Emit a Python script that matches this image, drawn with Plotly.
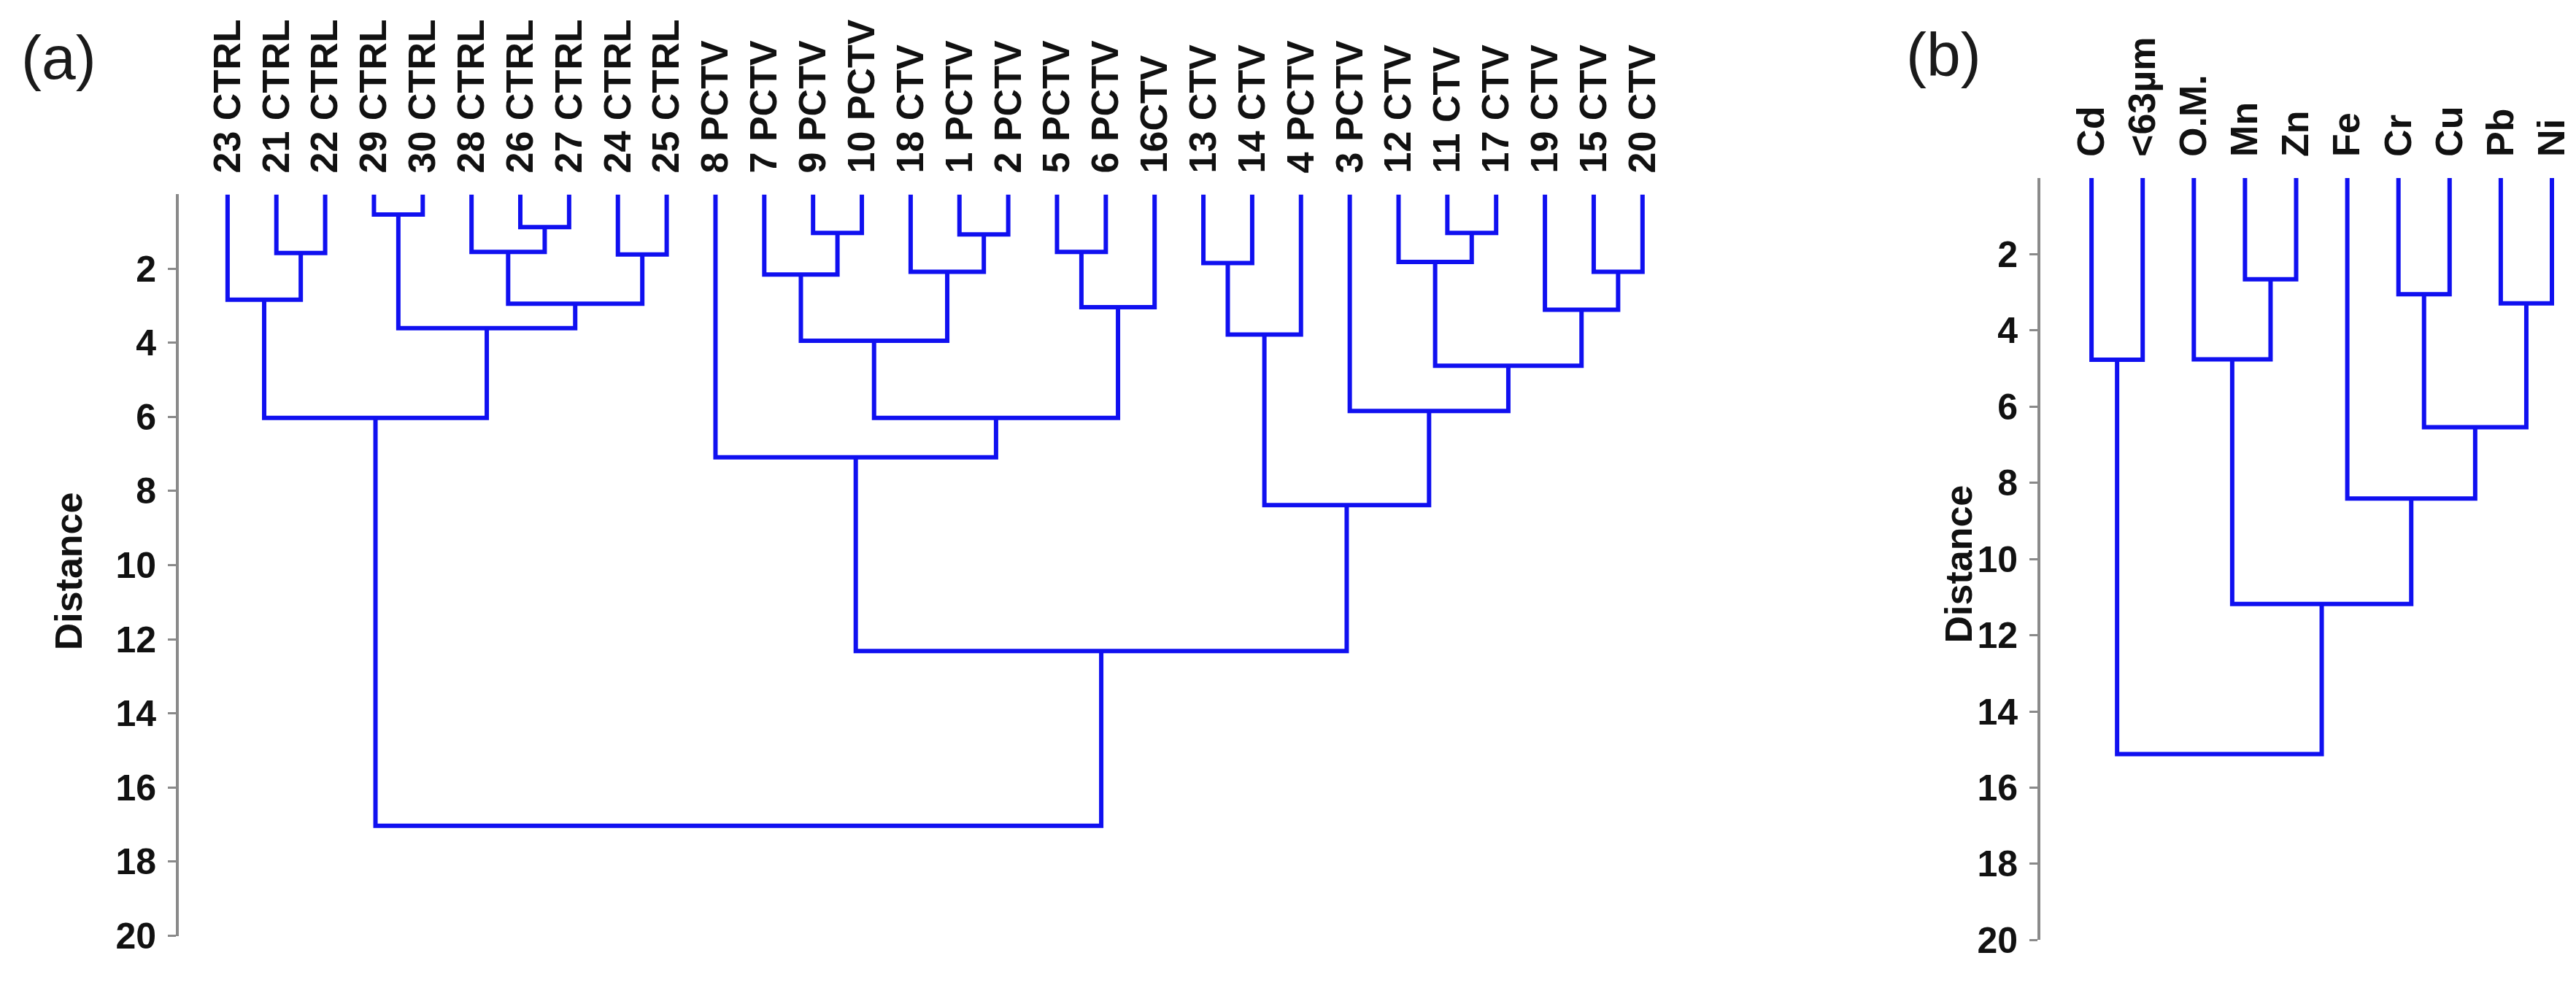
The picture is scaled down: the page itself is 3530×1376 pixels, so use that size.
import plotly.graph_objects as go

# ---------------- data: panel (a) ----------------
leaves_a = ["23 CTRL", "21 CTRL", "22 CTRL", "29 CTRL", "30 CTRL", "28 CTRL", "26 CTRL", "27 CTRL",
            "24 CTRL", "25 CTRL", "8 PCTV", "7 PCTV", "9 PCTV", "10 PCTV", "18 CTV", "1 PCTV",
            "2 PCTV", "5 PCTV", "6 PCTV", "16CTV", "13 CTV", "14 CTV", "4 PCTV", "3 PCTV",
            "12 CTV", "11 CTV", "17 CTV", "19 CTV", "15 CTV", "20 CTV"]
# node ids: leaves 0..n-1, merged clusters numbered n, n+1, ... in merge order
merge_left_a = [1, 0, 3, 6, 5, 8, 34, 32, 31, 12, 11, 15, 14, 40, 17, 44, 43, 10,
                20, 48, 25, 24, 28, 27, 51, 23, 49, 47, 38]
merge_right_a = [2, 30, 4, 7, 33, 9, 35, 36, 37, 13, 39, 16, 41, 42, 18, 19, 45, 46,
                 21, 22, 26, 50, 29, 52, 53, 54, 55, 56, 57]
merge_height_a = [1.58, 2.84, 0.54, 0.88, 1.55, 1.62, 2.95, 3.61, 6.03, 1.04, 2.16, 1.08,
                  2.09, 3.95, 1.55, 3.04, 6.03, 7.09, 1.85, 3.78, 1.04, 1.82, 2.09, 3.11,
                  4.62, 5.84, 8.38, 12.32, 17.03]

# ---------------- data: panel (b) ----------------
leaves_b = ["Cd", "&lt;63µm", "O.M.", "Mn", "Zn", "Fe", "Cr", "Cu", "Pb", "Ni"]
merge_left_b = [0, 3, 2, 6, 8, 13, 5, 12, 10]
merge_right_b = [1, 4, 11, 7, 9, 14, 15, 16, 17]
merge_height_b = [4.77, 2.66, 4.76, 3.05, 3.29, 6.54, 8.41, 11.18, 15.12]

y_ticks = [2, 4, 6, 8, 10, 12, 14, 16, 18, 20]


def dendro_xy(n, left, right, height):
    xs = {i: float(i) for i in range(n)}
    hs = {i: 0.0 for i in range(n)}
    X, Y = [], []
    for k, (l, r, h) in enumerate(zip(left, right, height)):
        node = n + k
        X += [xs[l], xs[l], xs[r], xs[r], None]
        Y += [hs[l], h, h, hs[r], None]
        xs[node] = (xs[l] + xs[r]) / 2
        hs[node] = h
    return X, Y


BLUE = "#1010f0"
GRAY = "#8a8a8a"
FONT = "Liberation Sans"

xa, ya = dendro_xy(len(leaves_a), merge_left_a, merge_right_a, merge_height_a)
xb, yb = dendro_xy(len(leaves_b), merge_left_b, merge_right_b, merge_height_b)

fig = go.Figure()
fig.add_trace(go.Scatter(x=xa, y=ya, mode="lines", line=dict(color=BLUE, width=6),
                         xaxis="x", yaxis="y", showlegend=False, hoverinfo="skip"))
fig.add_trace(go.Scatter(x=xb, y=yb, mode="lines", line=dict(color=BLUE, width=6),
                         xaxis="x2", yaxis="y2", showlegend=False, hoverinfo="skip"))

W, H = 3530, 1376


def px_x(p):
    return p / W


def px_y(p):
    return 1 - p / H


xcommon = dict(side="top", tickangle=-90, ticks="", showline=False, showgrid=False,
               zeroline=False, tickfont=dict(family=FONT, size=52, color="#111", weight="bold"),
               ticklabelstandoff=28)
ycommon = dict(showline=True, linecolor=GRAY, linewidth=4, ticks="outside", ticklen=11,
               tickwidth=3, tickcolor=GRAY, showgrid=False, zeroline=False,
               tickvals=y_ticks, ticktext=[str(v) for v in y_ticks], range=[20, 0],
               tickfont=dict(family=FONT, size=50, color="#111", weight="bold"),
               ticklabelstandoff=6)

ann_common = dict(xref="paper", yref="paper", showarrow=False, xanchor="center", yanchor="middle")

fig.update_layout(
    width=W, height=H, autosize=False,
    margin=dict(l=0, r=0, t=0, b=0),
    paper_bgcolor="white", plot_bgcolor="white",
    xaxis=dict(domain=[px_x(237), px_x(237 + 31 * 66.86)], range=[-1, 30],
               tickvals=list(range(len(leaves_a))), ticktext=leaves_a, anchor="y", **xcommon),
    yaxis=dict(domain=[px_y(1302), px_y(264)], anchor="x", **ycommon),
    xaxis2=dict(domain=[px_x(2788), px_x(2788 + 10.5 * 70.1)], range=[-1, 9.5],
                tickvals=list(range(len(leaves_b))), ticktext=leaves_b, anchor="y2", **xcommon),
    yaxis2=dict(domain=[px_y(1308), px_y(241)], anchor="x2", **ycommon),
    annotations=[
        dict(text="(a)", x=px_x(72), y=px_y(73),
             font=dict(family=FONT, size=84, color="#1a1a1a"), **ann_common),
        dict(text="(b)", x=px_x(2655), y=px_y(68),
             font=dict(family=FONT, size=84, color="#1a1a1a"), **ann_common),
        dict(text="Distance", x=px_x(86), y=px_y(792), textangle=-90,
             font=dict(family=FONT, size=52, color="#111", weight="bold"), **ann_common),
        dict(text="Distance", x=px_x(2676), y=px_y(782), textangle=-90,
             font=dict(family=FONT, size=52, color="#111", weight="bold"), **ann_common),
    ],
)

fig.write_html("out.html")
